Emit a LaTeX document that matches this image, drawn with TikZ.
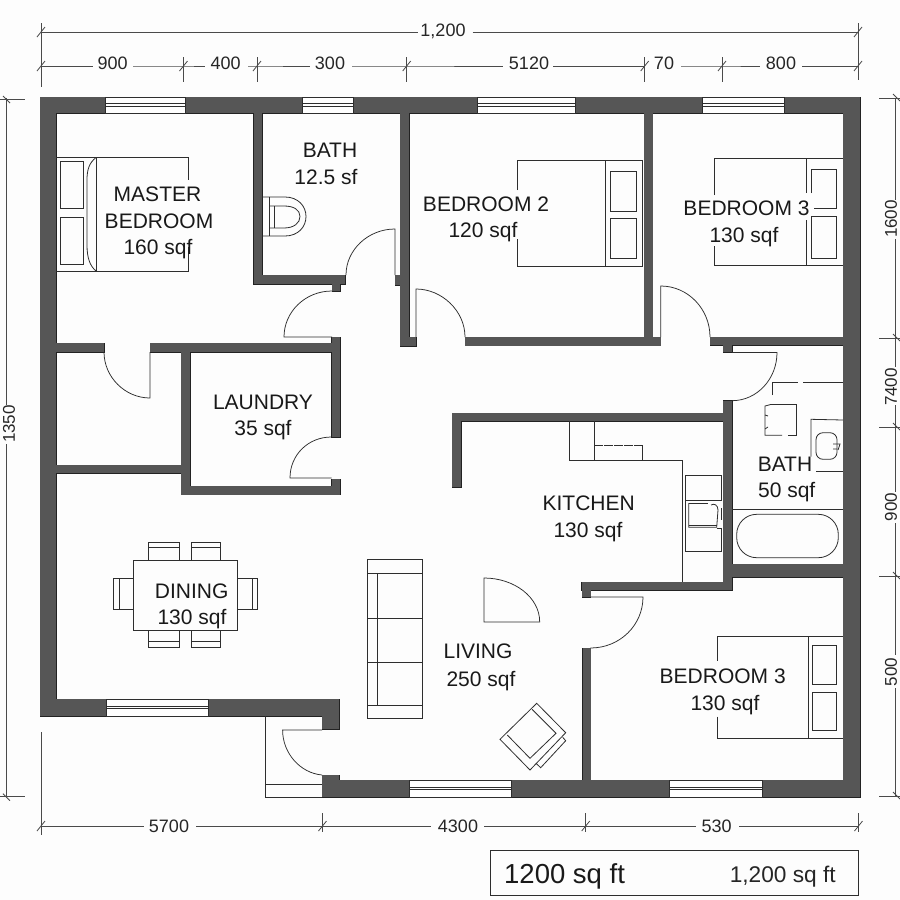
\documentclass[tikz,border=0pt]{standalone}
\usepackage{fontspec}
\setmainfont{Liberation Sans}
\definecolor{bgc}{HTML}{FDFDFD}
\definecolor{wallc}{HTML}{565656}
\definecolor{edgec}{HTML}{222222}
\definecolor{inkc}{HTML}{2E2E2E}
\definecolor{dimc}{HTML}{4A4A4A}
\newcommand{\hwin}[4]{%
  \fill[white] (#1,#2) rectangle (#3,#4);
  \draw[thin line] (#1,#2) rectangle (#3,#4);
  \draw[thin line] (#1,{#2+(#4-#2)*0.42}) -- (#3,{#2+(#4-#2)*0.42});
  \draw[thin line] (#1,{#2+(#4-#2)*0.58}) -- (#3,{#2+(#4-#2)*0.58});
}
\tikzset{
  x=1pt,y=-1pt,
  thin line/.style={draw=inkc,line width=0.75pt},
  fur/.style={draw=inkc,line width=0.8pt},
  dim line/.style={draw=dimc,line width=0.8pt},
  roomlab/.style={anchor=base,inner sep=0pt,font=\fontsize{21}{21}\selectfont,text=black!90},
  dimlab/.style={anchor=base,inner sep=0pt,font=\fontsize{18}{18}\selectfont,text=black!85},
  dimlabv/.style={anchor=center,inner sep=0pt,rotate=90,font=\fontsize{17}{17}\selectfont,text=black!85},
}
\begin{document}
\begin{tikzpicture}
\useasboundingbox (0,0) rectangle (900,900);
\fill[bgc] (0,0) rectangle (900,900);

% ---- walls: outline pass, then fill pass
\def\walllist{40/97/860/113, 40/97/56/716, 843/97/860/797, 40/699/339/716, 322/699/339/729,
 322/780/860/797, 322/775/339/780, 253.5/113/262/284, 253.5/275/345/284, 332/284/340/291,
 400/113/409/346, 395/275/400/285, 400/337/416/346, 465/337/660.7/345.5, 644/113/652.7/337,
 710/337/843/345, 723/345/732/352, 723/400.7/732/590, 452/413/723/421, 452/413/461/487,
 581.7/582/732/590, 582/582/590.5/597, 582.7/648/590.7/780, 732/564/843/577,
 56/343/104/352, 150/343/340/352, 331.5/337/340/437, 331.5/479/340/494.5,
 181/486/340/494.5, 181/352/190/494, 56/465/181/473}
\foreach \a/\b/\c/\d in \walllist { \draw[edgec,line width=1pt] (\a,\b) rectangle (\c,\d); }
\foreach \a/\b/\c/\d in \walllist { \fill[wallc] (\a,\b) rectangle (\c,\d); }

% ---- windows
\hwin{105}{97}{185}{113}
\hwin{302}{97}{353}{113}
\hwin{477}{97}{575}{113}
\hwin{702}{97}{784}{113}
\hwin{106}{699}{208}{716}
\hwin{409}{780}{511}{797}
\hwin{669}{780}{762}{797}

% ---- doors
\draw[thin line] (395,275) -- (395,229) .. controls (368,229) and (346,250) .. (346,275);
\draw[thin line] (332,337) -- (284,337) .. controls (284,312) and (305,291) .. (332,291);
\draw[thin line] (416,337) -- (416,289) .. controls (442,289) and (465,311) .. (465,337);
\draw[thin line] (660.7,337) -- (660.7,286) .. controls (688,286) and (710,309) .. (710,337);
\draw[thin line] (732,352.5) -- (777,352.5) .. controls (777,379) and (757,400.7) .. (732,400.7);
\draw[thin line] (150,352) -- (150,398) .. controls (125,398) and (104,377) .. (104,352);
\draw[thin line] (331.5,437) .. controls (308,437) and (290,455) .. (290,478) -- (331.5,478);
\draw[thin line] (590.5,597) -- (643,597) .. controls (643,625) and (620,648) .. (590.5,648);
\draw[thin line] (322,730) -- (282.6,730) .. controls (282.6,753) and (300,773) .. (322,775);
\draw[thin line] (484,578) .. controls (514,578) and (539.7,597) .. (539.7,622) -- (484,622) -- cycle;

% ---- porch
\draw[thin line] (265,716) -- (265,797) -- (322,797);
\draw[thin line] (265,784.5) -- (322,784.5);

% ---- master bed
\draw[fur] (56,157.5) -- (188.5,157.5) -- (188.5,180);
\draw[fur] (188.5,247) -- (188.5,271) -- (56,271);
\draw[fur] (96,157.5) -- (96,271);
\draw[fur] (96,157.5) .. controls (89,163) and (87,170) .. (87,180) -- (87,245) .. controls (87,258) and (90,266) .. (96,271);
\draw[fur] (60.3,161.7) rectangle (83,208);
\draw[fur] (60.3,217.5) rectangle (83,264);

% ---- toilet
\draw[fur] (262,197) -- (285,197) .. controls (298,197) and (306,206) .. (306,216.5) .. controls (306,227) and (298,236) .. (285,236) -- (262,236);
\draw[fur] (269.5,197) -- (269.5,236);
\draw[fur] (269.5,206) -- (284,206) .. controls (294,206) and (300,210) .. (300,216.5) .. controls (300,223) and (294,228) .. (284,228) -- (269.5,228);
\draw[fur] (274,206) -- (274,228);

% ---- bedroom 2 bed
\draw[fur] (517.7,190) -- (517.7,160.3) -- (642.7,160.3) -- (642.7,266.7) -- (517.7,266.7) -- (517.7,239);
\draw[fur] (605.3,160.3) -- (605.3,266.7);
\draw[fur] (610.7,171.7) rectangle (636,211.3);
\draw[fur] (610.7,218.3) rectangle (636,258);

% ---- bedroom 3 (upper) bed
\draw[fur] (714.3,195) -- (714.3,158.3) -- (843,158.3);
\draw[fur] (714.3,246) -- (714.3,265.7) -- (843,265.7);
\draw[fur] (806.7,158.3) -- (806.7,193);
\draw[fur] (806.7,220) -- (806.7,265.7);
\draw[fur] (811.7,193) -- (811.7,169) -- (836.7,169) -- (836.7,208) -- (814,208);
\draw[fur] (811.7,216.7) rectangle (836.7,258);

% ---- bedroom 3 (lower) bed
\draw[fur] (717.3,660.7) -- (717.3,636.7) -- (843,636.7);
\draw[fur] (717.3,716.7) -- (717.3,738.3) -- (843,738.3);
\draw[fur] (808.3,636.7) -- (808.3,738.3);
\draw[fur] (812.3,645.7) rectangle (836.7,684);
\draw[fur] (812.3,692) rectangle (836.7,730.7);

% ---- dining set
\draw[fur] (133,560) rectangle (237.7,630);
\foreach \p/\q in {148.7/179, 191/220.7} {
  \draw[fur] (\p,560) -- (\p,542.3) -- (\q,542.3) -- (\q,560);
  \draw[fur] (\p,547.3) -- (\q,547.3);
  \draw[fur] (\p,630) -- (\p,647.3) -- (\q,647.3) -- (\q,630);
  \draw[fur] (\p,641.7) -- (\q,641.7);
}
\draw[fur] (133,578.7) -- (113.3,578.7) -- (113.3,609.3) -- (133,609.3);
\draw[fur] (119,578.7) -- (119,609.3);
\draw[fur] (237.7,578.7) -- (257.3,578.7) -- (257.3,609.3) -- (237.7,609.3);
\draw[fur] (252,578.7) -- (252,609.3);

% ---- sofa
\draw[fur] (367.7,559.3) rectangle (422.7,718.7);
\draw[fur] (367.7,573.3) -- (422.7,573.3);
\draw[fur] (367.7,705) -- (422.7,705);
\draw[fur] (377.3,573.3) -- (377.3,705);
\draw[fur] (367.7,618.3) -- (422.7,618.3);
\draw[fur] (367.7,662.7) -- (422.7,662.7);

% ---- armchair
\draw[fur] (536.7,703.3) -- (565.7,732.7) -- (530,770) -- (500,739.3) -- cycle;
\draw[fur] (532,709.3) -- (556,733.3) -- (530,758.3) -- (507.3,735);
\draw[fur] (562.7,737.3) -- (565.7,740.7) -- (540.7,767.7) -- (536,763.3);

% ---- kitchen
\draw[fur] (569.3,421) -- (569.3,460.7) -- (682.7,460.7) -- (682.7,582);
\draw[fur] (594.3,421) -- (594.3,460.7);
\draw[fur,dash pattern=on 9pt off 1pt] (594.3,445) -- (642.3,445);
\draw[fur] (642.3,445) -- (642.3,460.7);
\draw[fur] (685.7,475.7) rectangle (721.7,500);
\draw[fur] (685.7,500) -- (685.7,551) -- (721.7,551) -- (721.7,528);
\draw[fur] (721.7,508) -- (721.7,520);
\draw[fur] (688.7,503) -- (688.7,527.3) -- (716.7,527.3) -- (718,510) .. controls (718,505) and (714,503) .. (711,505);
\draw[fur] (688.7,503) -- (708,503);
\draw[fur] (688.7,525) -- (716.7,525);
\draw[fur] (716.7,528.3) -- (721.7,528.3);

% ---- bath
\draw[fur] (732,509) -- (843,509);
\draw[fur,rounded corners=20pt] (736.7,514.3) rectangle (838.3,557.7);
\draw[fur] (811,456.7) -- (811,419.3) -- (843,420);
\draw[fur] (816,471.3) -- (843,471.3);
\draw[fur,rounded corners=7pt] (816,432.7) rectangle (837,459.3);
\draw[fur] (833,444) -- (840,444) -- (838,450) (833,449) -- (837,449);
\draw[fur] (772.7,395) -- (772.7,382) -- (797.7,382);
\draw[fur] (803.3,382) -- (843,382);
\draw[fur] (770,404.7) -- (796,404.7) -- (796,435.3) -- (788,435.3);
\draw[fur] (782,435.3) -- (765,435.3) -- (765,406) -- (770,404.7);
\draw[fur] (765,415) -- (768,416) (765,429) -- (768,427);

% ---- room labels
\node[roomlab] (tmaster) at (157.5,201) {MASTER};
\node[roomlab] (tmasterb) at (159,228) {BEDROOM};
\node[roomlab] (tmasters) at (158,254.5) {160 sqf};
\node[roomlab] (tbath) at (330,157.5) {BATH};
\node[roomlab] (tbaths) at (326,184) {12.5 sf};
\node[roomlab] (tbedtwo) at (486,211.5) {BEDROOM 2};
\node[roomlab] (tbedtwos) at (483,237.5) {120 sqf};
\node[roomlab] (tbedthree) at (746.5,215.5) {BEDROOM 3};
\node[roomlab] (tbedthrees) at (744,242.5) {130 sqf};
\node[roomlab] (tlaundry) at (263,409.5) {LAUNDRY};
\node[roomlab] (tlaundrys) at (263,435.5) {35 sqf};
\node[roomlab] (tdining) at (191.7,598.5) {DINING};
\node[roomlab] (tdinings) at (192,624.5) {130 sqf};
\node[roomlab] (tkitchen) at (588.7,510.5) {KITCHEN};
\node[roomlab] (tkitchens) at (588,537.5) {130 sqf};
\node[roomlab] (tbathb) at (785,471.5) {BATH};
\node[roomlab] (tbathbs) at (786.7,497.5) {50 sqf};
\node[roomlab] (tliving) at (478,658.5) {LIVING};
\node[roomlab] (tlivings) at (481,686.5) {250 sqf};
\node[roomlab] (tbedfour) at (722.7,683) {BEDROOM 3};
\node[roomlab] (tbedfours) at (725,710.5) {130 sqf};

% ---- top dimensions
\draw[dim line] (41,32) -- (418,32) (472.7,32) -- (858,32);
\draw[dim line] (41,66) -- (93,66) (133,66) -- (183.5,66) -- (205,66) (248,66) -- (257,66) -- (310,66)
  (352,66) -- (406.7,66) -- (502.7,66) (553,66) -- (644.7,66) (681,66) -- (722,66) -- (760,66) (802,66) -- (858,66);
\draw[dim line] (41,23) -- (41,87);
\draw[dim line] (858,23) -- (858,80);
\foreach \x in {183.5,257,406.7,644.7,722} { \draw[dim line] (\x,57) -- (\x,82); }
\foreach \x in {41,183.5,257,406.7,644.7,722,858} { \draw[dim line] (\x-4,71) -- (\x+4,61); }
\foreach \x in {41,858} { \draw[dim line] (\x-4,37) -- (\x+4,27); }
\node[dimlab] (dtotal) at (443,36) {1,200};
\node[dimlab] (da) at (112.7,69.5) {900};
\node[dimlab] (db) at (225.7,69.5) {400};
\node[dimlab] (dc) at (330,69.5) {300};
\node[dimlab] (dd) at (529,69.5) {5120};
\node[dimlab] (de) at (664,69.5) {70};
\node[dimlab] (df) at (781,69.5) {800};

% ---- bottom dimensions
\draw[dim line] (41,732) -- (41,835);
\foreach \x in {322.5,585.7,858.5} { \draw[dim line] (\x,813) -- (\x,832); }
\draw[dim line] (41,826) -- (144,826) (196,826) -- (322.5,826) -- (431,826) (484,826) -- (585.7,826) -- (696,826) (739,826) -- (858.5,826);
\foreach \x in {41,322.5,585.7,858.5} { \draw[dim line] (\x-4,831) -- (\x+4,821); }
\node[dimlab] (dg) at (169,832.5) {5700};
\node[dimlab] (dh) at (458,832.5) {4300};
\node[dimlab] (di) at (716.7,832.5) {530};

% ---- left dimension
\draw[dim line] (6.5,98) -- (6.5,405) (6.5,444) -- (6.5,797);
\foreach \y in {99,796.7} {
  \draw[dim line] (0,\y) -- (24.7,\y);
  \draw[dim line] (3,\y-3) -- (10,\y+4);
}
\node[dimlabv] (dl) at (9,424) {1350};

% ---- right dimension
\draw[dim line] (895.7,98) -- (895.7,200) (895.7,239) -- (895.7,367) (895.7,405) -- (895.7,492) (895.7,523) -- (895.7,655) (895.7,688) -- (895.7,796);
\foreach \y in {98,338,427,576,796} {
  \draw[dim line] (879,\y) -- (900,\y);
  \draw[dim line] (893,\y-4) -- (900,\y+3);
}
\node[dimlabv] (dr) at (891,219) {1600};
\node[dimlabv] (ds) at (891,387) {7400};
\node[dimlabv] (dt) at (891,507) {900};
\node[dimlabv] (du) at (891,672) {500};

% ---- title box
\node[draw=inkc,line width=1pt,minimum width=368.3pt,minimum height=45pt,inner sep=0pt,anchor=north west] (tbox) at (490,850) {};
\node[anchor=base west,inner sep=0pt,font=\fontsize{27.5}{27.5}\selectfont,text=black!90] (tarea) at (504,883) {1200 sq ft};
\node[anchor=base east,inner sep=0pt,font=\fontsize{22.7}{22.7}\selectfont,text=black!85] (tareb) at (836,882) {1,200 sq ft};
\end{tikzpicture}
\end{document}
